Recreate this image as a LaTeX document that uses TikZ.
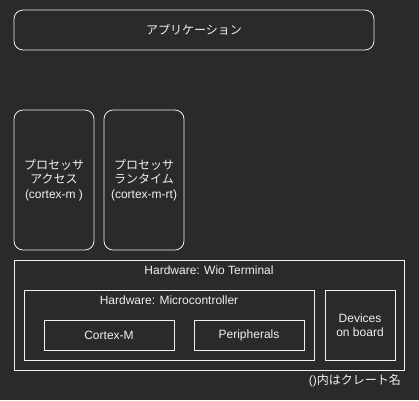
\documentclass[tikz,border=0pt]{standalone}
\usepackage{fontspec}
\setmainfont{Liberation Sans}
\newfontfamily\jp{Noto Sans CJK JP}
\definecolor{bg}{HTML}{2A2A2A}
\definecolor{fg}{HTML}{F0F0F0}
\begin{document}
\begin{tikzpicture}[x=1pt,y=-1pt,
  every node/.style={text=fg,font=\fontsize{12}{14.5}\selectfont},
  rbox/.style={draw=fg,line width=0.8pt,rounded corners=9pt},
  sbox/.style={draw=fg,line width=0.8pt}]
\fill[bg] (0,0) rectangle (419,400);
\useasboundingbox (0,0) rectangle (419,400);
\draw[rbox] (14,10) rectangle (374,50);
\node (app) at (194,30) {\jp アプリケーション};
\draw[rbox] (14,110) rectangle (94,250);
\node[align=center] (pa) at (54,180) {{\jp プロセッサ}\\{\jp アクセス}\\(cortex-m )};
\draw[rbox] (104,110) rectangle (184,250);
\node[align=center] (pr) at (144,180) {{\jp プロセッサ}\\{\jp ランタイム}\\(cortex-m-rt)};
\draw[sbox] (14,260) rectangle (404,370);
\node (wio) at (209,270) {Hardware: Wio Terminal};
\draw[sbox] (24,290) rectangle (314,360);
\node (mc) at (169,300) {Hardware: Microcontroller};
\draw[sbox] (44,320) rectangle (174,350);
\node (cm) at (109,335) {Cortex-M};
\draw[sbox] (194,320) rectangle (304,350);
\node (per) at (249,335) {Peripherals};
\draw[sbox] (325,290) rectangle (395,360);
\node[align=center] (dev) at (360,325) {Devices\\on board};
\node[anchor=east,inner sep=0pt] (note) at (401,381) {(){\jp 内はクレート名}};
\end{tikzpicture}
\end{document}
